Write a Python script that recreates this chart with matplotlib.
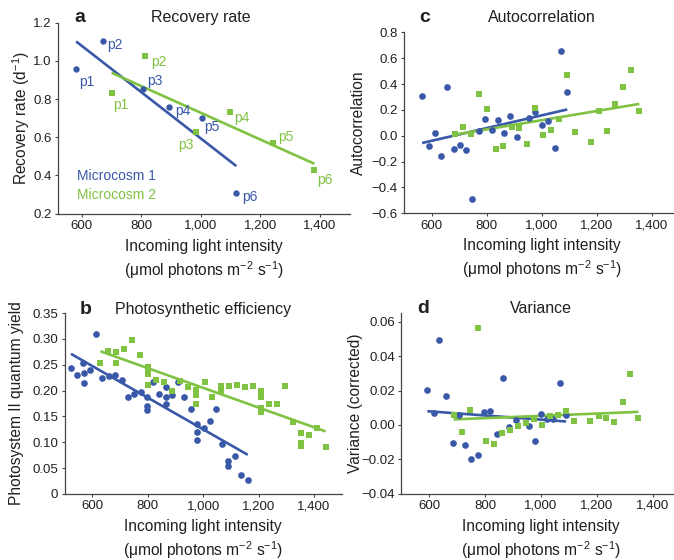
import numpy as np
import matplotlib
matplotlib.use("Agg")
import matplotlib.pyplot as plt
from matplotlib.ticker import FixedLocator, FixedFormatter

plt.rcParams['font.family'] = ['Liberation Sans', 'DejaVu Sans']
plt.rcParams['mathtext.fontset'] = 'custom'
plt.rcParams['mathtext.rm'] = 'Liberation Sans'
plt.rcParams['mathtext.default'] = 'regular'

# --- data ---
# a: recovery rate
a_blue_x = [581, 672, 804, 894, 1005, 1119]
a_blue_y = [0.957, 1.104, 0.851, 0.758, 0.703, 0.310]
a_green_x = [700, 813, 985, 1097, 1241, 1381]
a_green_y = [0.832, 1.025, 0.626, 0.732, 0.572, 0.429]
a_point_names = ['p1', 'p2', 'p3', 'p4', 'p5', 'p6']

# c: autocorrelation
c_blue_x = [565, 589, 611, 635, 657, 680, 703, 726, 748, 772, 795, 818,
            840, 864, 886, 909, 955, 977, 1001, 1024, 1047, 1069, 1093]
c_blue_y = [0.305, -0.079, 0.019, -0.154, 0.380, -0.099, -0.068, -0.107,
            -0.491, 0.040, 0.133, 0.048, 0.122, 0.022, 0.153, -0.009,
            0.135, 0.184, 0.086, 0.115, -0.094, 0.656, 0.341]
c_green_x = [686, 714, 743, 772, 802, 832, 861, 891, 919, 947, 976, 1006,
             1035, 1064, 1093, 1122, 1181, 1210, 1239, 1268, 1297, 1326, 1355]
c_green_y = [0.011, 0.068, 0.011, 0.326, 0.205, -0.105, -0.079, 0.066,
             0.058, -0.061, 0.215, 0.004, 0.042, 0.127, 0.468, 0.029,
             -0.048, 0.189, 0.035, 0.249, 0.375, 0.511, 0.189]

# b: photosynthetic efficiency
b_blue_x = [523, 546, 568, 570, 569, 592, 614, 636, 659, 683, 707, 729,
            750, 774, 796, 797, 797, 819, 842, 865, 865, 865, 887, 909,
            930, 955, 978, 978, 978, 1002, 1023, 1045, 1069, 1091, 1091,
            1115, 1138, 1161]
b_blue_y = [0.244, 0.230, 0.254, 0.234, 0.214, 0.240, 0.310, 0.224, 0.228,
            0.230, 0.221, 0.188, 0.193, 0.197, 0.187, 0.170, 0.163, 0.217,
            0.194, 0.207, 0.188, 0.174, 0.191, 0.217, 0.188, 0.165, 0.135,
            0.120, 0.104, 0.128, 0.141, 0.164, 0.097, 0.064, 0.054, 0.074,
            0.037, 0.028]
b_green_x = [629, 658, 687, 687, 715, 744, 773, 802, 802, 802, 802, 831,
             860, 889, 918, 946, 975, 975, 975, 975, 1005, 1033, 1063,
             1063, 1093, 1122, 1151, 1180, 1209, 1209, 1209, 1209, 1238,
             1267, 1297, 1325, 1354, 1354, 1354, 1383, 1412, 1442]
b_green_y = [0.254, 0.277, 0.274, 0.254, 0.280, 0.297, 0.268, 0.246, 0.240,
             0.233, 0.211, 0.220, 0.216, 0.200, 0.219, 0.206, 0.201, 0.197,
             0.191, 0.174, 0.217, 0.188, 0.208, 0.200, 0.208, 0.210, 0.206,
             0.208, 0.200, 0.188, 0.166, 0.158, 0.174, 0.174, 0.208, 0.140,
             0.117, 0.099, 0.092, 0.114, 0.128, 0.090]

# d: variance (corrected)
d_blue_x = [593, 616, 636, 661, 684, 706, 729, 750, 773, 796, 818, 841,
            864, 887, 909, 956, 977, 1000, 1022, 1044, 1067, 1090]
d_blue_y = [0.0205, 0.0069, 0.0497, 0.0166, -0.0107, 0.0057, -0.0115,
            -0.0200, -0.0177, 0.0077, 0.0081, -0.0055, 0.0274, -0.0012,
            0.0030, -0.0005, -0.0094, 0.0063, 0.0032, 0.0032, 0.0243, 0.0057]
d_green_x = [687, 718, 747, 774, 803, 832, 861, 890, 919, 947, 976, 1005,
             1033, 1062, 1091, 1119, 1177, 1206, 1234, 1263, 1292, 1320, 1349]
d_green_y = [0.0057, -0.0038, 0.0088, 0.0567, -0.0094, -0.0113, -0.0047,
             -0.0028, -0.0007, 0.0011, 0.0036, 0.0000, 0.0055, 0.0057,
             0.0081, 0.0022, 0.0022, 0.0053, 0.0040, 0.0015, 0.0131,
             0.0296, 0.0038]

x_ticks = [600, 800, 1000, 1200, 1400]
x_ticklabels = ['600', '800', '1,000', '1,200', '1,400']
a_yticks = [0.2, 0.4, 0.6, 0.8, 1.0, 1.2]
a_yticklabels = ['0.2', '0.4', '0.6', '0.8', '1.0', '1.2']
c_yticks = [-0.6, -0.4, -0.2, 0.0, 0.2, 0.4, 0.6, 0.8]
c_yticklabels = ['\u22120.6', '\u22120.4', '\u22120.2', '0.0', '0.2', '0.4', '0.6', '0.8']
b_yticks = [0, 0.05, 0.10, 0.15, 0.20, 0.25, 0.30, 0.35]
b_yticklabels = ['0', '0.05', '0.10', '0.15', '0.20', '0.25', '0.30', '0.35']
d_yticks = [-0.04, -0.02, 0.0, 0.02, 0.04, 0.06]
d_yticklabels = ['\u22120.04', '\u22120.02', '0.00', '0.02', '0.04', '0.06']

BLUE = '#3a58a8'
GREEN = '#80c242'
TXT = '#231f20'
XLABEL = 'Incoming light intensity\n(\u03bcmol photons m$^{-2}$ s$^{-1}$)'


def style(ax, xlim, ylim, yticks, yticklabels, ylabel, ypad, letter, title, head_y):
    ax.set_xlim(*xlim)
    ax.set_ylim(*ylim)
    for s in ['top', 'right']:
        ax.spines[s].set_visible(False)
    for s in ['left', 'bottom']:
        ax.spines[s].set_color('#444444')
        ax.spines[s].set_linewidth(0.9)
    ax.xaxis.set_major_locator(FixedLocator(x_ticks))
    ax.xaxis.set_major_formatter(FixedFormatter(x_ticklabels))
    ax.yaxis.set_major_locator(FixedLocator(yticks))
    ax.yaxis.set_major_formatter(FixedFormatter(yticklabels))
    ax.tick_params(direction='out', length=2.5, width=0.8, color='#444444',
                   labelsize=9.5, labelcolor=TXT, pad=2)
    ax.set_xlabel(XLABEL, fontsize=11.2, color=TXT, linespacing=1.3, labelpad=5)
    ax.set_ylabel(ylabel, fontsize=11.2, color=TXT, labelpad=ypad)
    ax.text(0.055, head_y, letter, transform=ax.transAxes, fontsize=14,
            fontweight='bold', color=TXT, va='baseline', ha='left')
    ax.text(1000, head_y, title, transform=ax.get_xaxis_transform(),
            fontsize=11.5, color=TXT, va='baseline', ha='center')


def scatter_fit(ax, x, y, color, marker, ms):
    x = np.asarray(x, float)
    y = np.asarray(y, float)
    k, b0 = np.polyfit(x, y, 1)
    xs = np.array([x.min(), x.max()])
    ax.plot(xs, k * xs + b0, color=color, lw=1.9, zorder=2, solid_capstyle='butt')
    ax.plot(x, y, linestyle='none', marker=marker, ms=ms, color=color,
            mew=0, zorder=3)


fig = plt.figure(figsize=(6.74, 5.6), dpi=100)
W, H = 674, 560
ax_a = fig.add_axes([58 / W, 1 - 213.7 / H, 291.8 / W, 191 / H])
ax_c = fig.add_axes([404.2 / W, 1 - 213.3 / H, 275 / W, 181 / H])
ax_b = fig.add_axes([64.6 / W, 1 - 494 / H, 277.1 / W, 181 / H])
ax_d = fig.add_axes([401.4 / W, 1 - 493.7 / H, 279.2 / W, 180.4 / H])

# a
scatter_fit(ax_a, a_blue_x, a_blue_y, BLUE, 'o', 4.6)
scatter_fit(ax_a, a_green_x, a_green_y, GREEN, 's', 3.8)
blue_offsets = [(2, -9), (3, -3), (3, 6), (4, -3), (1, -7), (4, -3)]
green_offsets = [(1, -9), (4, -4), (-2, -9), (3, -4), (4, 4), (2, -7)]
for name, x, y, off in zip(a_point_names, a_blue_x, a_blue_y, blue_offsets):
    ax_a.annotate(name, (x, y), xytext=off, textcoords='offset points',
                  fontsize=10, color=BLUE, ha='left', va='center')
for name, x, y, off in zip(a_point_names, a_green_x, a_green_y, green_offsets):
    ax_a.annotate(name, (x, y), xytext=off, textcoords='offset points',
                  fontsize=10, color=GREEN, va='center',
                  ha='right' if off[0] < 0 else 'left')
ax_a.text(0.065, 0.2, 'Microcosm 1', transform=ax_a.transAxes, fontsize=10,
          color=BLUE, va='center')
ax_a.text(0.065, 0.1, 'Microcosm 2', transform=ax_a.transAxes, fontsize=10,
          color=GREEN, va='center')
style(ax_a, (520, 1500), (0.2, 1.2), a_yticks, a_yticklabels,
      'Recovery rate (d$^{-1}$)', 1.2, 'a', 'Recovery rate', 1.005)

# c
scatter_fit(ax_c, c_blue_x, c_blue_y, BLUE, 'o', 4.8)
scatter_fit(ax_c, c_green_x, c_green_y, GREEN, 's', 3.8)
style(ax_c, (500, 1500), (-0.6, 0.8), c_yticks, c_yticklabels,
      'Autocorrelation', 4, 'c', 'Autocorrelation', 1.058)

# b
scatter_fit(ax_b, b_blue_x, b_blue_y, BLUE, 'o', 4.8)
scatter_fit(ax_b, b_green_x, b_green_y, GREEN, 's', 3.8)
style(ax_b, (500, 1500), (0, 0.35), b_yticks, b_yticklabels,
      'Photosystem II quantum yield', 6, 'b', 'Photosynthetic efficiency', 0.995)

# d
scatter_fit(ax_d, d_blue_x, d_blue_y, BLUE, 'o', 4.8)
scatter_fit(ax_d, d_green_x, d_green_y, GREEN, 's', 3.8)
style(ax_d, (500, 1500), (-0.04, 0.065), d_yticks, d_yticklabels,
      'Variance (corrected)', -1, 'd', 'Variance', 1.0)

fig.savefig('out.png', dpi=100)
